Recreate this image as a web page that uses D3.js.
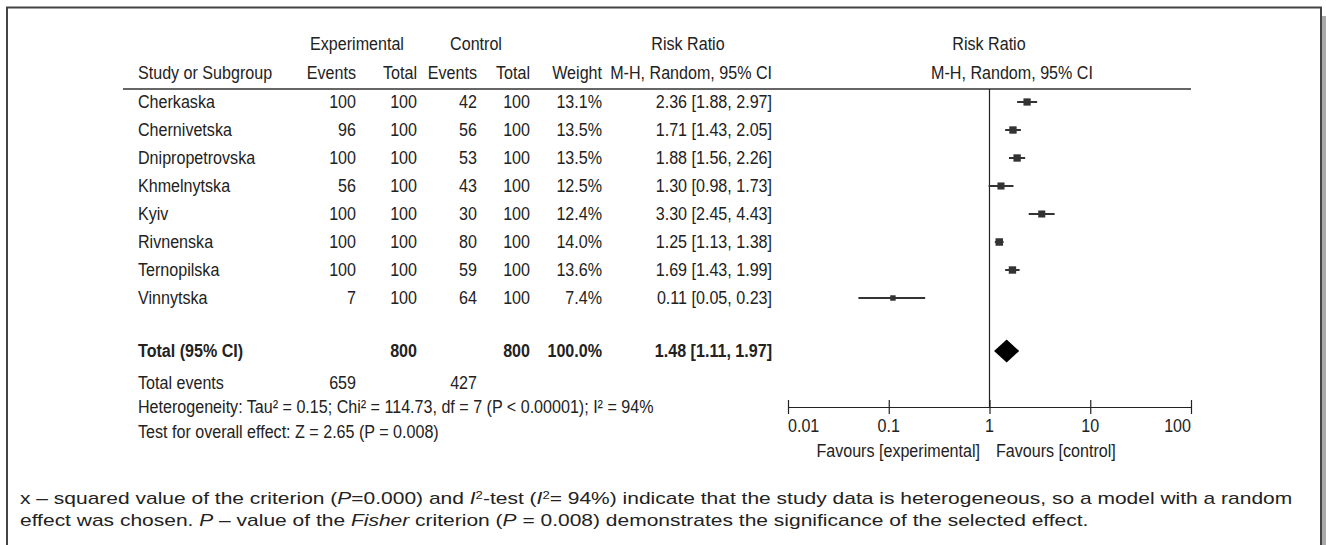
<!DOCTYPE html>
<html><head><meta charset="utf-8">
<script src="https://cdn.jsdelivr.net/npm/d3@7"></script>
<style>
html,body{margin:0;padding:0;background:#fff;}
svg{display:block;}
.t{font-family:"Liberation Sans",Arial,sans-serif;font-size:18.5px;fill:#222;}
.b{font-weight:bold;}
.cap{font-family:"Liberation Sans",Arial,sans-serif;fill:#222;}
</style></head>
<body>
<script>
// ---- data ----
const studies = ["Cherkaska","Chernivetska","Dnipropetrovska","Khmelnytska","Kyiv","Rivnenska","Ternopilska","Vinnytska"];
const expEvents = [100,96,100,56,100,100,100,7];
const expTotal = [100,100,100,100,100,100,100,100];
const ctrlEvents = [42,56,53,43,30,80,59,64];
const ctrlTotal = [100,100,100,100,100,100,100,100];
const weights = [13.1,13.5,13.5,12.5,12.4,14.0,13.6,7.4];
const rr = [2.36,1.71,1.88,1.30,3.30,1.25,1.69,0.11];
const rrLo = [1.88,1.43,1.56,0.98,2.45,1.13,1.43,0.05];
const rrHi = [2.97,2.05,2.26,1.73,4.43,1.38,1.99,0.23];
const totalRR = [1.48,1.11,1.97];
const totalN = [800,800];
const totalEvents = [659,427];
const axisTicks = [0.01,0.1,1,10,100];
const axisTickLabels = ["0.01","0.1","1","10","100"];
const favourLabels = ["Favours [experimental]","Favours [control]"];

const W=1326,H=545;
const SX=0.87; // narrow (condensed) text
const svg=d3.select("body").append("svg").attr("width",W).attr("height",H);

// frame
svg.append("rect").attr("x",1322).attr("y",16).attr("width",4).attr("height",H).attr("fill","#aaa");
svg.append("path").attr("d",`M7,${H} V7.5 H1321 V${H}`).attr("fill","none").attr("stroke","#444").attr("stroke-width",2);

const x=d3.scaleLog().domain([0.01,100]).range([788,1191]);
const rowY=d3.scaleLinear().domain([0,1]).range([102,130]);
const f2=d3.format(".2f");

const col={study:138,expE:356,expT:417,ctlE:477,ctlT:530,wt:602,rr:772};

function txt(xp,yp,s,anchor,cls){
  return svg.append("text").attr("class","t "+(cls||""))
    .attr("transform",`translate(${xp},${yp}) scale(${SX},1)`)
    .attr("dy","0.35em").attr("text-anchor",anchor||"start").text(s);
}
// headers
txt(357,44,"Experimental","middle");
txt(476,44,"Control","middle");
txt(688,44,"Risk Ratio","middle");
txt(989,44,"Risk Ratio","middle");
txt(col.study,73,"Study or Subgroup");
txt(col.expE,73,"Events","end");
txt(col.expT,73,"Total","end");
txt(col.ctlE,73,"Events","end");
txt(col.ctlT,73,"Total","end");
txt(col.wt,73,"Weight","end");
txt(col.rr,73,"M-H, Random, 95% CI","end");
txt(1012,73,"M-H, Random, 95% CI","middle");
svg.append("line").attr("x1",123).attr("x2",1191).attr("y1",89).attr("y2",89).attr("stroke","#333").attr("stroke-width",1.6);

// rows
studies.forEach((s,i)=>{
  const y=rowY(i);
  txt(col.study,y,s);
  txt(col.expE,y,expEvents[i],"end");
  txt(col.expT,y,expTotal[i],"end");
  txt(col.ctlE,y,ctrlEvents[i],"end");
  txt(col.ctlT,y,ctrlTotal[i],"end");
  txt(col.wt,y,weights[i].toFixed(1)+"%","end");
  txt(col.rr,y,`${f2(rr[i])} [${f2(rrLo[i])}, ${f2(rrHi[i])}]`,"end");
});

// total
const yT=351;
txt(col.study,yT,"Total (95% CI)","start","b");
txt(col.expT,yT,totalN[0],"end","b");
txt(col.ctlT,yT,totalN[1],"end","b");
txt(col.wt,yT,"100.0%","end","b");
txt(col.rr,yT,`${f2(totalRR[0])} [${f2(totalRR[1])}, ${f2(totalRR[2])}]`,"end","b");
txt(col.study,383,"Total events");
txt(col.expE,383,totalEvents[0],"end");
txt(col.ctlE,383,totalEvents[1],"end");
txt(col.study,407,"Heterogeneity: Tau² = 0.15; Chi² = 114.73, df = 7 (P < 0.00001); I² = 94%");
txt(col.study,432,"Test for overall effect: Z = 2.65 (P = 0.008)");

// forest plot
const axisY=407;
svg.append("line").attr("x1",x(1)).attr("x2",x(1)).attr("y1",89).attr("y2",axisY).attr("stroke","#222").attr("stroke-width",1.2);
const g=svg.append("g");
studies.forEach((s,i)=>{
  const y=rowY(i);
  g.append("line").attr("x1",x(rrLo[i])).attr("x2",x(rrHi[i])).attr("y1",y).attr("y2",y).attr("stroke","#333").attr("stroke-width",2);
  const sz=2*Math.sqrt(weights[i]);
  g.append("rect").attr("x",x(rr[i])-sz/2).attr("y",y-sz/2).attr("width",sz).attr("height",sz).attr("fill","#333");
});
svg.append("path").attr("d",`M${x(totalRR[1])},${yT} L${x(totalRR[0])},${yT-11.5} L${x(totalRR[2])},${yT} L${x(totalRR[0])},${yT+11.5} Z`).attr("fill","#000");

// axis
const ax=svg.append("g").attr("transform",`translate(0,${axisY})`)
  .call(d3.axisBottom(x).tickValues(axisTicks).tickFormat(()=> "").tickSize(7).tickSizeOuter(0));
ax.select(".domain").attr("stroke","#222").attr("stroke-width",1.2);
ax.selectAll(".tick line").attr("y1",-7).attr("stroke","#222").attr("stroke-width",1.2);
axisTicks.forEach((v,i)=>{
  txt(x(v),426,axisTickLabels[i],i===0?"start":(i===axisTicks.length-1?"end":"middle"));
});
txt(980,451,favourLabels[0],"end");
txt(996,451,favourLabels[1],"start");

// caption
const cap=svg.append("g");
function capLine(y,parts){
  const t=cap.append("text").attr("class","cap").attr("transform",`translate(20,${y})`).style("font-size","16px");
  parts.forEach(p=>{
    const ts=t.append("tspan").text(p[0]);
    if(p[1]==="i") ts.style("font-style","italic");
    if(p[1]==="sup") ts.attr("baseline-shift","super").style("font-size","10px");
  });
  return t;
}
const l1=capLine(504,[["x – squared value of the criterion ("],["P","i"],["=0.000) and "],["I","i"],["2","sup"],["-test ("],["I","i"],["2","sup"],["= 94%) indicate that the study data is heterogeneous, so a model with a random"]]);
const l2=capLine(526,[["effect was chosen. "],["P","i"],[" – value of the "],["Fisher","i"],[" criterion ("],["P","i"],[" = 0.008) demonstrates the significance of the selected effect."]]);
// fit the caption width to the reference line length
const w1=l1.node().getComputedTextLength();
const csx=1273/w1;
l1.attr("transform",`translate(20,504) scale(${csx},1)`);
l2.attr("transform",`translate(20,526) scale(${csx},1)`);
</script>
</body></html>
